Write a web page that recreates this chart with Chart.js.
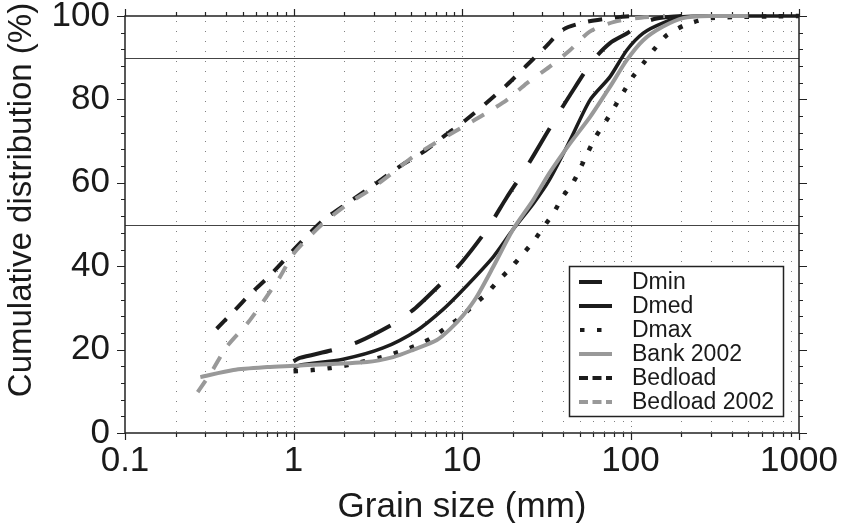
<!DOCTYPE html>
<html>
<head>
<meta charset="utf-8">
<script src="https://cdn.jsdelivr.net/npm/chart.js@4.4.1/dist/chart.umd.min.js"></script>
<style>
  html, body { margin: 0; padding: 0; background: #fff; }
  #wrap { width: 842px; height: 523px; }
</style>
</head>
<body>
<div id="wrap"><canvas id="grafico" width="842" height="523"></canvas></div>
<script>
// valores (mm, %)
const dminX = [1, 1.09, 1.71, 2.4, 4, 5.3, 7.9, 10, 14, 18.5, 23, 27, 36.6, 43.7, 60, 75.6, 95, 118, 143, 200]
const dminY = [17.2, 18, 19.9, 21.8, 26.4, 30, 36.7, 41, 48.7, 56.6, 62.4, 67, 76, 81, 89.4, 93.5, 95.8, 98.3, 99.4, 100]

const dmedX = [1, 1.1, 1.97, 3.4, 5.4, 7.7, 10.1, 15.3, 20, 26.5, 33, 43.9, 57.6, 75.5, 95, 119, 155, 205, 300, 1000]
const dmedY = [15.6, 16.3, 17.7, 20.4, 24.6, 29.6, 34.3, 42.2, 48.7, 55, 60.7, 70.3, 79.9, 85.4, 91.8, 95.9, 98.3, 99.8, 100, 100]

const dmaxX = [1, 1.29, 1.66, 2.1, 3.35, 4.2, 5.3, 6.6, 8, 9.8, 11.6, 13.9, 16.3, 19.5, 22.7, 26.4, 30.5, 35, 39.5, 45.5, 50.8, 56, 62.5, 71.5, 81, 91.5, 104, 121, 140, 164, 210, 300, 1000]
const dmaxY = [14.8, 15.1, 15.6, 16.3, 18.2, 19.4, 20.9, 22.8, 25.2, 27.8, 30.5, 33.3, 36.4, 39.6, 42.7, 45.8, 49.4, 52.8, 56.6, 60, 63.8, 67.4, 71.2, 74.8, 78.4, 82, 85.6, 89, 92.3, 95.4, 97.8, 99.5, 100]

const bankX = [0.28, 0.44, 0.7, 1, 1.1, 2.73, 3.9, 5.1, 7.1, 8.5, 10.2, 12.2, 15.3, 20, 26.5, 33, 43.9, 57.6, 75.5, 95, 119, 155, 205, 300, 500]
const bankY = [13.4, 15.1, 15.8, 16.1, 16.2, 17, 18.2, 19.9, 22.3, 24.9, 28.3, 32.6, 39.8, 48.7, 55.9, 62.3, 69.5, 75.8, 83, 89.4, 94.2, 97.4, 99.5, 100, 100]

const bedloadX = [0.35, 0.44, 0.55, 0.7, 0.83, 1, 1.5, 2.25, 3, 4.3, 5.9, 8, 10.5, 14, 18.5, 24, 31, 40, 55, 80, 100]
const bedloadY = [25, 29.1, 33.2, 37.2, 40.3, 43.9, 51, 56, 59.5, 64, 67.4, 71.5, 75, 79.2, 83.5, 88, 92.4, 96.8, 98.6, 99.6, 100]

const bed02X = [0.27, 0.33, 0.4, 0.55, 0.83, 1, 1.5, 2.2, 2.84, 3.84, 5.1, 6.9, 9.8, 13.4, 18.5, 24.3, 33, 43.7, 57, 80, 115, 160]
const bed02Y = [9.8, 15, 20.6, 27, 37.4, 43, 50.3, 55.5, 58.3, 62.3, 66.2, 69.5, 73.1, 76.3, 79.9, 83.9, 87.8, 91.8, 96.2, 98.6, 99.6, 100]

const xTicks = [0.1, 1, 10, 100, 1000]
const xTickLabels = ['0.1', '1', '10', '100', '1000']
const yTicks = [0, 20, 40, 60, 80, 100]
const yTickLabels = ['0', '20', '40', '60', '80', '100']
const linhasRef = [50, 90]

const PRETO = '#1c1c1c'
const CINZA = '#999999'
const FONTE = '"Liberation Sans", Arial, Helvetica, sans-serif'

const pts = (xs, ys) => xs.map((x, i) => ({ x, y: ys[i] }))

function serie(label, xs, ys, cor, largura, dash, ordem, amostra) {
  return {
    label, data: pts(xs, ys),
    borderColor: cor, backgroundColor: cor,
    borderWidth: largura, borderDash: dash, borderCapStyle: 'butt',
    pointRadius: 0, tension: 0.25, fill: false, order: ordem, clip: false,
    amostra
  }
}

const datasets = [
  serie('Dmin', dminX, dminY, PRETO, 4, [40, 24], 6, { x1: 579, x2: 602, dash: [] }),
  serie('Dmed', dmedX, dmedY, PRETO, 3.5, [], 5, { x1: 579, x2: 612, dash: [] }),
  serie('Dmax', dmaxX, dmaxY, PRETO, 4.5, [4.5, 12.5], 4, { x1: 580, x2: 602, dash: [4.5, 12.5] }),
  serie('Bank 2002', bankX, bankY, CINZA, 4, [], 3, { x1: 579, x2: 612, dash: [] }),
  serie('Bedload', bedloadX, bedloadY, PRETO, 4, [14, 13], 2, { x1: 579, x2: 612, dash: [9, 4.5] }),
  serie('Bedload 2002', bed02X, bed02Y, CINZA, 4, [14, 14], 1, { x1: 579, x2: 612, dash: [9, 4.5] })
]

// grade pontilhada, linhas de 50/90 %, moldura e marcas nos quatro lados
const moldura = {
  id: 'moldura',
  beforeDatasetsDraw(chart) {
    const { ctx, chartArea: a, scales: { x, y } } = chart
    ctx.save()
    ctx.lineWidth = 1
    ctx.strokeStyle = '#808080'
    for (let e = -1; e < 3; e++) {
      for (let k = 1; k < 10; k++) {
        const v = k * Math.pow(10, e)
        if (v <= 0.1) continue
        const px = Math.round(x.getPixelForValue(v)) + 0.5
        ctx.setLineDash(k === 1 ? [1, 4] : [1, 9])
        ctx.beginPath(); ctx.moveTo(px, a.top + 5); ctx.lineTo(px, a.bottom); ctx.stroke()
      }
    }
    ctx.setLineDash([])
    ctx.strokeStyle = '#444'
    ctx.lineWidth = 1.2
    linhasRef.forEach(v => {
      const py = Math.round(y.getPixelForValue(v)) + 0.5
      ctx.beginPath(); ctx.moveTo(a.left, py); ctx.lineTo(a.right, py); ctx.stroke()
    })

    ctx.strokeStyle = '#222'
    ctx.lineWidth = 1.5
    ctx.strokeRect(a.left, a.top, a.right - a.left, a.bottom - a.top)

    ctx.lineWidth = 1.2
    ctx.beginPath()
    for (let v = 0; v <= 100; v += 4) {
      const py = Math.round(y.getPixelForValue(v)) + 0.5
      const len = v % 20 === 0 ? 8 : 4
      ctx.moveTo(a.left - len, py); ctx.lineTo(a.left, py)
      ctx.moveTo(a.right, py); ctx.lineTo(a.right + len, py)
    }
    for (let e = -1; e < 3; e++) {
      for (let k = 1; k <= 10; k++) {
        const v = k * Math.pow(10, e)
        const px = Math.round(x.getPixelForValue(v)) + 0.5
        const len = (k === 1 || k === 10) ? 7 : 4
        ctx.moveTo(px, a.bottom); ctx.lineTo(px, a.bottom + len)
        ctx.moveTo(px, a.top); ctx.lineTo(px, a.top - len)
      }
    }
    ctx.stroke()
    ctx.restore()
  },
  afterDatasetsDraw(chart) {
    const { ctx } = chart
    ctx.save()
    // legenda
    ctx.fillStyle = '#fff'
    ctx.fillRect(569, 266, 214, 150)
    ctx.strokeStyle = '#222'
    ctx.lineWidth = 1.5
    ctx.strokeRect(569.5, 266.5, 214, 150)
    ctx.font = '23px ' + FONTE
    ctx.textBaseline = 'middle'
    ctx.textAlign = 'left'
    chart.data.datasets.forEach((ds, i) => {
      const yy = 282 + i * 24
      const s = ds.amostra
      ctx.strokeStyle = ds.borderColor
      ctx.lineWidth = 4
      ctx.lineCap = 'butt'
      ctx.setLineDash(s.dash)
      ctx.beginPath(); ctx.moveTo(s.x1, yy); ctx.lineTo(s.x2, yy); ctx.stroke()
      ctx.setLineDash([])
      ctx.fillStyle = '#1a1a1a'
      ctx.fillText(ds.label, 632, yy + 1)
    })
    // títulos dos eixos
    ctx.fillStyle = '#1a1a1a'
    ctx.textAlign = 'center'
    ctx.textBaseline = 'alphabetic'
    ctx.font = '35px ' + FONTE
    ctx.fillText('Grain size (mm)', 462, 517)
    ctx.translate(31, 200)
    ctx.rotate(-Math.PI / 2)
    ctx.font = '33px ' + FONTE
    ctx.fillText('Cumulative distribution (%)', 0, 0)
    ctx.restore()
  }
}

new Chart(document.getElementById('grafico'), {
  type: 'line',
  data: { datasets },
  plugins: [moldura],
  options: {
    responsive: false,
    devicePixelRatio: 1,
    animation: false,
    layout: { padding: { left: 0, right: 43, top: 16, bottom: 0 } },
    plugins: { legend: { display: false }, tooltip: { enabled: false } },
    scales: {
      x: {
        type: 'logarithmic', min: 0.1, max: 1000,
        afterBuildTicks: s => { s.ticks = xTicks.map(v => ({ value: v })) },
        afterFit: s => { s.height = 90; s.paddingLeft = 0; s.paddingRight = 0 },
        grid: { display: false, drawTicks: false },
        border: { display: false },
        ticks: {
          autoSkip: false, maxRotation: 0, padding: 11, color: '#1a1a1a',
          font: { family: FONTE, size: 35, lineHeight: 1 },
          callback: (v, i) => xTickLabels[i]
        }
      },
      y: {
        type: 'linear', min: 0, max: 100,
        afterBuildTicks: s => { s.ticks = yTicks.map(v => ({ value: v })) },
        afterFit: s => { s.width = 125; s.paddingTop = 0; s.paddingBottom = 0 },
        grid: { display: false, drawTicks: false },
        border: { display: false },
        ticks: {
          padding: 15, color: '#1a1a1a',
          font: { family: FONTE, size: 35, lineHeight: 1 },
          callback: (v, i) => yTickLabels[i]
        }
      }
    }
  }
})
</script>
</body>
</html>
